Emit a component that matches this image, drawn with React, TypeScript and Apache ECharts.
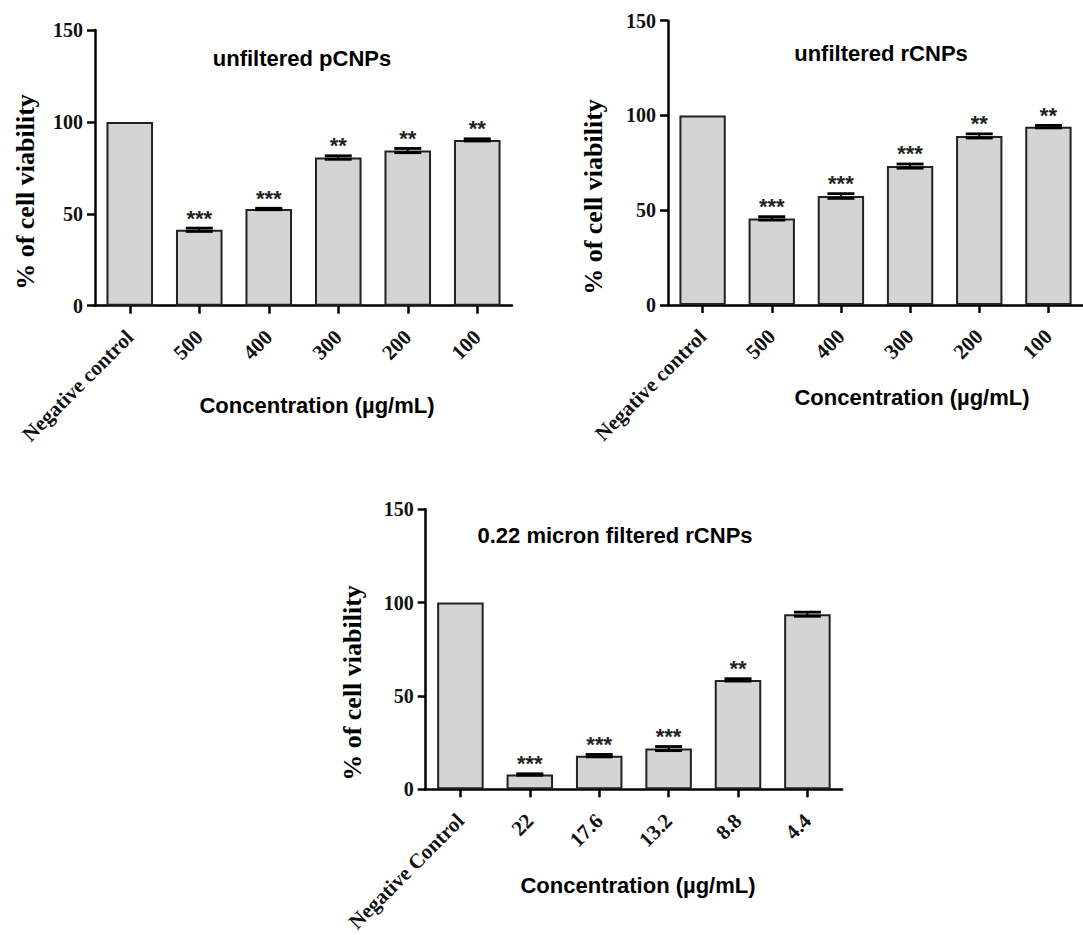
import React, { useEffect, useRef } from "react";
import * as echarts from "echarts";

// ---- Data ----
const catsP = ["Negative control", "500", "400", "300", "200", "100"];
const valsP = [100, 41.3, 52.6, 80.6, 84.4, 90.2];
const errsP = [0, 0.9, 0.4, 0.95, 1.15, 0.6];
const starsP = ["", "***", "***", "**", "**", "**"];

const catsR = ["Negative control", "500", "400", "300", "200", "100"];
const valsR = [100, 45.7, 57.5, 73.3, 89.2, 94.1];
const errsR = [0, 0.9, 1.25, 1.1, 1.1, 0.65];
const starsR = ["", "***", "***", "***", "**", "**"];

const catsF = ["Negative Control", "22", "17.6", "13.2", "8.8", "4.4"];
const valsF = [100, 7.9, 18.0, 21.8, 58.6, 93.8];
const errsF = [0, 0.4, 0.65, 1.1, 0.65, 1.1];
const starsF = ["", "***", "***", "***", "**", ""];

const titles = ["unfiltered pCNPs", "unfiltered rCNPs", "0.22 micron filtered rCNPs"];
const xName = "Concentration (µg/mL)";
const yName = "% of cell viability";

const yMin = 0;
const yMax = 150;
const yStep = 50;

const grids = [
  { left: 95, top: 30, width: 417, height: 275.7 },
  { left: 668, top: 20.7, width: 427, height: 284.3 },
  { left: 425.7, top: 509.3, width: 416.4, height: 284 },
];

const titlePos = [
  [302, 58],
  [881, 53],
  [615, 535],
];
const xNamePos = [
  [317, 405],
  [912, 397],
  [638, 885],
];
const yNamePos = [
  [25, 192],
  [593, 197],
  [352, 683],
];

function makeRender(vals: number[], errs: number[], stars: string[]) {
  return (params: any, api: any) => {
    const i = params.dataIndex;
    const e = errs[i];
    const children: any[] = [];
    const top = api.coord([i, vals[i] + e]);
    const bot = api.coord([i, vals[i] - e]);
    const capHalf = 13.5;
    if (e > 0) {
      children.push({
        type: "line",
        shape: { x1: top[0], y1: top[1], x2: bot[0], y2: bot[1] },
        style: { stroke: "#000", lineWidth: 2 },
      });
      children.push({
        type: "line",
        shape: { x1: top[0] - capHalf, y1: top[1], x2: top[0] + capHalf, y2: top[1] },
        style: { stroke: "#000", lineWidth: 2.8 },
      });
      children.push({
        type: "line",
        shape: { x1: bot[0] - capHalf, y1: bot[1], x2: bot[0] + capHalf, y2: bot[1] },
        style: { stroke: "#000", lineWidth: 2.8 },
      });
    }
    if (stars[i]) {
      children.push({
        type: "text",
        style: {
          text: stars[i],
          x: top[0],
          y: top[1] - 10,
          align: "center",
          verticalAlign: "middle",
          fontSize: 22,
          fontFamily: "Liberation Sans",
          fontWeight: "bold",
          fill: "#222",
        },
      });
    }
    return { type: "group", children };
  };
}

export default function App() {
  const ref = useRef<HTMLDivElement>(null);
  useEffect(() => {
    if (!ref.current) return;
    const chart = echarts.init(ref.current, undefined, { renderer: "svg" });
    const sets = [
      { cats: catsP, vals: valsP, errs: errsP, stars: starsP },
      { cats: catsR, vals: valsR, errs: errsR, stars: starsR },
      { cats: catsF, vals: valsF, errs: errsF, stars: starsF },
    ];
    const xAxis = sets.map((s, gi) => ({
      type: "category",
      gridIndex: gi,
      data: s.cats,
      boundaryGap: true,
      axisLine: { show: true, lineStyle: { color: "#000", width: 2.5 } },
      axisTick: { show: true, alignWithLabel: true, length: 8, lineStyle: { color: "#000", width: 2.5 } },
      axisLabel: {
        rotate: 45,
        interval: 0,
        margin: 28,
        padding: [30, 0, 0, 0],
        fontSize: 21,
        fontFamily: "Liberation Serif",
        fontWeight: "bold",
        color: "#111",
      },
      splitLine: { show: false },
    }));
    const yAxis = sets.map((_s, gi) => ({
      type: "value",
      gridIndex: gi,
      min: yMin,
      max: yMax,
      interval: yStep,
      axisLine: { show: true, lineStyle: { color: "#000", width: 2.5 } },
      axisTick: { show: true, length: 8, lineStyle: { color: "#000", width: 2.5 } },
      axisLabel: {
        margin: 12,
        fontSize: 20,
        fontFamily: "Liberation Serif",
        fontWeight: "bold",
        color: "#111",
      },
      splitLine: { show: false },
    }));
    const series: any[] = [];
    sets.forEach((s, gi) => {
      series.push({
        type: "bar",
        xAxisIndex: gi,
        yAxisIndex: gi,
        data: s.vals,
        barWidth: "67%",
        itemStyle: { color: "#d4d4d4", borderColor: "#222", borderWidth: 2 },
        z: 2,
      });
      series.push({
        type: "custom",
        xAxisIndex: gi,
        yAxisIndex: gi,
        data: s.vals.map((v, i) => [i, v]),
        encode: { x: 0, y: 1 },
        renderItem: makeRender(s.vals, s.errs, s.stars),
        z: 3,
      });
    });
    const graphic: any[] = [];
    for (let gi = 0; gi < 3; gi++) {
      graphic.push({
        type: "text",
        x: titlePos[gi][0],
        y: titlePos[gi][1],
        style: {
          text: titles[gi],
          align: "center",
          verticalAlign: "middle",
          fontSize: 22,
          fontFamily: "Liberation Sans",
          fontWeight: "bold",
          fill: "#000",
        },
      });
      graphic.push({
        type: "text",
        x: xNamePos[gi][0],
        y: xNamePos[gi][1],
        style: {
          text: xName,
          align: "center",
          verticalAlign: "middle",
          fontSize: 22,
          fontFamily: "Liberation Sans",
          fontWeight: "bold",
          fill: "#000",
        },
      });
      graphic.push({
        type: "text",
        x: yNamePos[gi][0],
        y: yNamePos[gi][1],
        rotation: Math.PI / 2,
        style: {
          text: yName,
          align: "center",
          verticalAlign: "middle",
          fontSize: 26,
          fontFamily: "Liberation Serif",
          fontWeight: "bold",
          fill: "#000",
        },
      });
    }
    chart.setOption({
      animation: false,
      backgroundColor: "#fff",
      grid: grids.map((g) => ({ ...g, containLabel: false })),
      xAxis,
      yAxis,
      series,
      graphic,
    });
    return () => chart.dispose();
  }, []);
  return (
    <div
      ref={ref}
      style={{ position: "fixed", left: 0, top: 0, width: 1083, height: 935, background: "#fff" }}
    />
  );
}
